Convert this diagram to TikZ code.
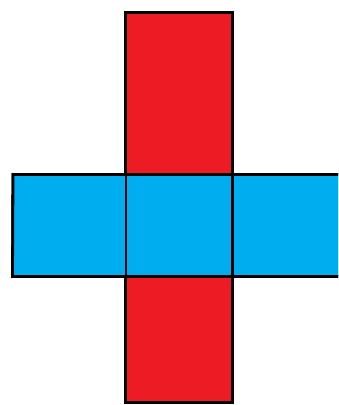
\documentclass[tikz,border=0pt]{standalone}
\definecolor{crossred}{HTML}{ED1C24}
\definecolor{crossblue}{HTML}{00AEEF}
\tikzset{edge/.style={draw=black,line width=2.8pt,line join=miter}}
\begin{document}
\begin{tikzpicture}[x=1pt,y=-1pt]
\useasboundingbox (0,0) rectangle (338,405);
\clip (0,0) rectangle (338,405);
\fill[white] (0,0) rectangle (338,405);
% red vertical strip
\path[edge,fill=crossred] (125.5,12.5) rectangle (232.5,402.5);
% blue horizontal strip
\path[edge,fill=crossblue] (345,174.5) -- (13,174.5) -- (12.5,276.5) -- (345,276.5);
\fill[crossblue] (13,174.5) -- (345,174.5) -- (345,276.5) -- (12.5,276.5) -- cycle;
\draw[edge] (345,174.5) -- (13,174.5) -- (12.5,276.5) -- (345,276.5);
% vertical divisions across the blue strip
\draw[edge] (126,174.5) -- (126,276.5);
\draw[edge] (232.5,174.5) -- (232.5,276.5);
\end{tikzpicture}
\end{document}
